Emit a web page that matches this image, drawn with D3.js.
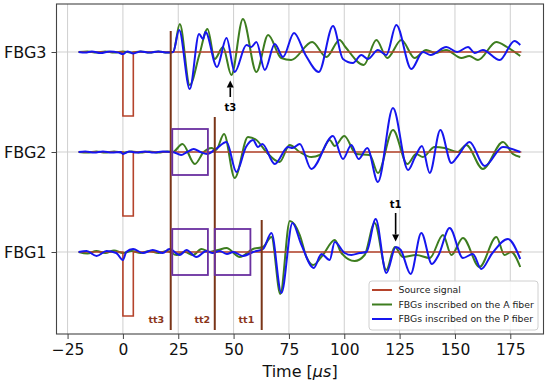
<!DOCTYPE html>
<html>
<head>
<meta charset="utf-8">
<script src="https://cdn.jsdelivr.net/npm/d3@7"></script>
<style>
  body { margin: 0; background: #fff; }
  svg { display: block; font-family: "DejaVu Sans", sans-serif; }
</style>
</head>
<body>
<svg id="chart" width="550" height="386"></svg>
<script>
// ---- data ----
var channels = ['FBG1', 'FBG2', 'FBG3'];
var xTicks = [-25, 0, 25, 50, 75, 100, 125, 150, 175];

// source pulse, same for every FBG
var sourceSignal = [[-20,0],[0,0],[0,-0.64],[4.7,-0.64],[4.7,0],[180,0]];

// [time in us, amplitude] pairs, A fiber (green)
var fbg1A = [[-20,0],[-16,-0.015],[-12,0.01],[-8,-0.01],[-4,0.015],[0,-0.01],[4,0.01],[8,-0.01],[12,0.01],[16,-0.01],[20,0.01],
  [24.2,-0.03],[28,0.0],[31.7,-0.03],[35.5,0.03],[39.2,0.0],[43,0.02],[46.8,0.04],[52.8,-0.05],[58.8,0.03],[63.3,0.05],
  [67.1,0.15],[71.1,-0.42],[75.4,0.31],[79.9,0.17],[82.9,-0.05],[85.9,-0.13],[90.3,-0.03],[95.7,0.12],[98.7,-0.01],
  [104.7,-0.09],[109.2,-0.03],[113.7,0.29],[119,-0.18],[122.8,0.05],[126.5,-0.05],[132.5,-0.03],[138.6,-0.06],
  [144.6,0.17],[148.4,-0.03],[153.6,0.14],[161.1,-0.15],[168.7,0.15],[172.4,-0.03],[175.4,0.0],[179.5,-0.15]];
var fbg2A = [[-20,0],[-16,-0.006],[-12,0.006],[-8,-0.006],[-4,0.006],[0,-0.006],[4,0.006],[8,-0.006],[12,0.006],[16,-0.006],[20,0.006],[22.5,0],
  [26.9,0.08],[32.5,-0.12],[36.5,0.0],[40,0.04],[42,0.02],[45.7,0.18],[50.5,-0.26],[56.5,0.15],[60.3,0.12],[64.8,0.0],
  [70.8,-0.1],[75.3,0.07],[79.9,0.0],[85.1,-0.05],[88.9,-0.03],[93.4,0.12],[95.7,0.06],[100,0.16],[105.4,-0.02],
  [111.5,-0.03],[115.2,-0.21],[122,0.22],[128.5,-0.12],[132.5,-0.02],[135.5,-0.05],[140.8,0.05],[145.3,0.04],
  [151.3,0.0],[155.1,0.07],[162.6,-0.17],[171.7,0.1],[176.2,-0.02],[179.5,-0.05]];
var fbg3A = [[-20,0],[-16,0.006],[-12,-0.006],[-8,0.006],[-4,-0.006],[0,0.005],[4,-0.006],[8,0.006],[12,-0.006],[16,0.006],[20,-0.005],[22.7,0],
  [25.7,0.28],[30.2,-0.33],[34.5,-0.03],[38.2,0.23],[41.5,-0.07],[45.2,0.05],[49,-0.23],[54.2,0.33],[60.3,-0.2],
  [65.6,0.17],[71.5,-0.06],[76,-0.08],[85.5,0.1],[91.9,-0.05],[97.9,0.12],[100.5,0.05],[108.8,-0.13],[114.5,0.12],
  [119.4,-0.06],[125.8,0.12],[131.8,-0.06],[137,0.02],[141,-0.01],[146,0.02],[152.9,-0.06],[156.5,-0.04],
  [160.4,-0.08],[168.7,0.1],[173.5,0.05],[179.5,-0.04]];

// P fiber (blue)
var fbg1P = [[-20,0],[-16.4,0.01],[-11.9,-0.04],[-7.4,0.01],[-3,-0.01],[0,-0.08],[1.5,0.0],[4.6,0.03],[9,-0.01],[13.5,0.02],
  [18,-0.01],[21,0.03],[25.7,-0.03],[28.7,0.02],[33.2,-0.05],[37.7,0.01],[40.5,-0.01],[43.7,0.01],[47,-0.02],[49.8,0.0],
  [54.3,-0.04],[58.8,0.0],[63.3,0.03],[67.1,0.19],[71.6,-0.41],[76.6,0.29],[80.5,0.08],[86.2,-0.16],[89.7,-0.02],
  [93.4,-0.08],[95.7,0.1],[100.2,-0.01],[103.2,-0.03],[107,-0.01],[110,0.0],[114.2,0.33],[119,-0.21],[123.3,0.05],
  [125.5,0.02],[130,-0.22],[134.8,0.19],[139.6,-0.12],[142.6,-0.03],[147.6,0.24],[153.6,-0.06],[158.1,-0.02],
  [161.9,-0.17],[166.6,-0.02],[173.9,0.13],[179.5,-0.07]];
var fbg2P = [[-20,0],[-17,0.006],[-13,-0.006],[-9,0.006],[-5,-0.006],[-1,0.0],[0,-0.02],[3,0.006],[6,-0.006],[10,0.006],[14,-0.006],[18,0.006],[22.5,0],
  [26.3,-0.03],[29,0.0],[32,0.03],[35,0.0],[38,-0.02],[42,0.03],[46.8,0.1],[51.3,-0.2],[55.6,0.05],[58.8,0.12],[61,0.05],
  [63,0.08],[68.6,-0.12],[74.6,0.05],[76.6,0.04],[79.9,0.08],[85.1,-0.17],[94.9,0.16],[99.4,-0.07],[103.2,0.07],
  [106.5,-0.07],[110.4,0.04],[115.2,-0.3],[122,0.44],[128.8,-0.18],[132,-0.05],[135.1,0.06],[138.6,-0.21],[143.4,0.22],
  [148.4,-0.11],[151,-0.05],[156.6,0.1],[163.4,-0.14],[171.7,0.05],[179.5,0.0]];
var fbg3P = [[-20,0],[-17,-0.006],[-14,0.006],[-10,-0.01],[-6,0.006],[-2,-0.006],[0,-0.02],[2,0.006],[4.7,-0.015],[8,0.006],[12,-0.006],[16,0.006],[20,-0.006],[22.7,0],
  [25.4,0.22],[30.2,-0.37],[34.4,0.18],[36.2,0.13],[37.3,0.2],[42.5,-0.15],[46.8,0.14],[50.5,-0.2],[55.8,0.07],[58,0.05],
  [60.3,0.1],[64.1,-0.18],[68.6,0.08],[72.3,-0.05],[77.3,0.19],[82.5,-0.03],[88.5,-0.2],[94.9,0.26],[99.4,-0.07],
  [103.9,-0.11],[107.7,-0.03],[110.7,-0.07],[115.2,0.02],[119,-0.03],[123.5,0.27],[130.3,-0.17],[135.5,0.0],[139,-0.03],
  [146.1,0.05],[151,0.0],[155.9,0.05],[159,-0.01],[162.6,0.02],[170.2,-0.08],[176.9,0.11],[179.5,0.07]];

var fiberA = [fbg1A, fbg2A, fbg3A];
var fiberP = [fbg1P, fbg2P, fbg3P];

// arrival markers: time, and top of the line in y units
var ttTimes = [62.7, 41.5, 21.6];
var ttTops = [0.32, 1.35, 2.21];
var ttLabels = ['tt1', 'tt2', 'tt3'];
var ttLabelTimes = [55.8, 35.9, 15.1];

// windows (time from, time to, channel)
var boxes = [[22.3, 38.4, 1], [22.3, 38.4, 0], [41.5, 57.6, 0]];

var legendLabels = ['Source signal', 'FBGs inscribed on the A fiber', 'FBGs inscribed on the P fiber'];
var colors = ['#b5432b', '#3d7d1f', '#1616ee'];

// ---- layout ----
var svg = d3.select('#chart');
var margin = {top: 4, right: 6.5, bottom: 52, left: 56.5},
    width = 550, height = 386;

var x = d3.scaleLinear().domain([-30, 190]).range([margin.left, width - margin.right]);
var y = d3.scaleLinear().domain([-0.82, 2.48]).range([height - margin.bottom, margin.top]);

// grid
svg.append('g').selectAll('line.vg')
  .data(xTicks).enter().append('line')
  .attr('x1', function(d){ return x(d); }).attr('x2', function(d){ return x(d); })
  .attr('y1', y.range()[0]).attr('y2', y.range()[1])
  .attr('stroke', '#cfcfcf').attr('stroke-width', 1);
svg.append('g').selectAll('line.hg')
  .data([0, 1, 2]).enter().append('line')
  .attr('x1', x.range()[0]).attr('x2', x.range()[1])
  .attr('y1', function(d){ return y(d); }).attr('y2', function(d){ return y(d); })
  .attr('stroke', '#cfcfcf').attr('stroke-width', 1);

var plot = svg.append('g');

function lineFor(offset, curve){
  return d3.line()
    .x(function(d){ return x(d[0]); })
    .y(function(d){ return y(offset + d[1]); })
    .curve(curve);
}

// A fiber
fiberA.forEach(function(s, i){
  plot.append('path').attr('d', lineFor(i, d3.curveMonotoneX)(s))
    .attr('fill', 'none').attr('stroke', colors[1]).attr('stroke-width', 2);
});
// source
[0, 1, 2].forEach(function(i){
  plot.append('path').attr('d', lineFor(i, d3.curveLinear)(sourceSignal))
    .attr('fill', 'none').attr('stroke', colors[0]).attr('stroke-width', 1.6);
});
// P fiber
fiberP.forEach(function(s, i){
  plot.append('path').attr('d', lineFor(i, d3.curveMonotoneX)(s))
    .attr('fill', 'none').attr('stroke', colors[2]).attr('stroke-width', 2);
});

// tt vertical lines and labels
plot.selectAll('.tt').data(ttTimes).enter().append('line')
  .attr('x1', function(d){ return x(d); }).attr('x2', function(d){ return x(d); })
  .attr('y1', function(d, i){ return y(ttTops[i]); }).attr('y2', y(-0.78))
  .attr('stroke', '#7a3518').attr('stroke-width', 2);
plot.selectAll('.ttl').data(ttLabels).enter().append('text')
  .attr('x', function(d, i){ return x(ttLabelTimes[i]); })
  .attr('y', y(-0.68)).attr('dy', '0.35em')
  .attr('text-anchor', 'middle')
  .attr('font-size', 9.5).attr('font-weight', 'bold')
  .attr('fill', '#8b3519')
  .text(function(d){ return d; });

// windows
plot.selectAll('.box').data(boxes).enter().append('rect')
  .attr('x', function(d){ return x(d[0]); })
  .attr('width', function(d){ return x(d[1]) - x(d[0]); })
  .attr('y', function(d){ return y(d[2] + 0.23); })
  .attr('height', function(d){ return y(d[2] - 0.23) - y(d[2] + 0.23); })
  .attr('fill', 'none').attr('stroke', '#6a30a0').attr('stroke-width', 1.8);

// arrows t3 / t1
var arrows = [
  {label: 't3', t: 48.5, tail: 2 - 0.45, tip: 2 - 0.285, text: 2 - 0.55},
  {label: 't1', t: 123.2, tail: 0.39, tip: 0.105, text: 0.48}
];
arrows.forEach(function(a){
  var ax = x(a.t), y0 = y(a.tail), y1 = y(a.tip);
  var dir = y1 < y0 ? 1 : -1, head = 7;
  plot.append('line').attr('x1', ax).attr('x2', ax)
    .attr('y1', y0).attr('y2', y1 + dir * head)
    .attr('stroke', '#000').attr('stroke-width', 1.6);
  plot.append('path')
    .attr('d', 'M' + ax + ',' + y1 + 'L' + (ax - 3.5) + ',' + (y1 + dir * head) +
               'L' + (ax + 3.5) + ',' + (y1 + dir * head) + 'Z')
    .attr('fill', '#000');
  plot.append('text').attr('x', ax).attr('y', y(a.text)).attr('dy', '0.35em')
    .attr('text-anchor', 'middle').attr('font-size', 10).attr('font-weight', 'bold')
    .text(a.label);
});

// frame
svg.append('rect')
  .attr('x', x.range()[0]).attr('y', y.range()[1])
  .attr('width', x.range()[1] - x.range()[0]).attr('height', y.range()[0] - y.range()[1])
  .attr('fill', 'none').attr('stroke', '#444').attr('stroke-width', 1.1);

// axes
var xAxis = svg.append('g')
  .attr('transform', 'translate(0,' + y.range()[0] + ')')
  .call(d3.axisBottom(x).tickValues(xTicks).tickSize(5).tickPadding(5));
var yAxis = svg.append('g')
  .attr('transform', 'translate(' + x.range()[0] + ',0)')
  .call(d3.axisLeft(y).tickValues([0, 1, 2]).tickSize(5).tickPadding(5)
    .tickFormat(function(d){ return channels[d]; }));
[xAxis, yAxis].forEach(function(g){
  g.select('.domain').remove();
  g.selectAll('line').attr('stroke', '#444');
  g.selectAll('text').attr('fill', '#111')
    .attr('font-family', '"DejaVu Sans", sans-serif');
});
xAxis.selectAll('text').attr('font-size', 15.5);
yAxis.selectAll('text').attr('font-size', 16);

var xl = svg.append('text')
  .attr('x', (x.range()[0] + x.range()[1]) / 2).attr('y', 377)
  .attr('text-anchor', 'middle').attr('font-size', 16).attr('fill', '#111');
xl.append('tspan').text('Time [');
xl.append('tspan').attr('font-style', 'italic').text('μs');
xl.append('tspan').text(']');

// legend
var lg = svg.append('g').attr('transform', 'translate(369,281)');
lg.append('rect').attr('width', 169).attr('height', 49).attr('rx', 3)
  .attr('fill', '#fff').attr('fill-opacity', 0.85)
  .attr('stroke', '#d0d0d0').attr('stroke-width', 1);
legendLabels.forEach(function(t, i){
  var ly = 9 + i * 14.5;
  lg.append('line').attr('x1', 3).attr('x2', 23).attr('y1', ly).attr('y2', ly)
    .attr('stroke', colors[i]).attr('stroke-width', 2);
  lg.append('text').attr('x', 29.5).attr('y', ly).attr('dy', '0.35em')
    .attr('font-size', 9.3).attr('fill', '#222').text(t);
});
</script>
</body>
</html>
